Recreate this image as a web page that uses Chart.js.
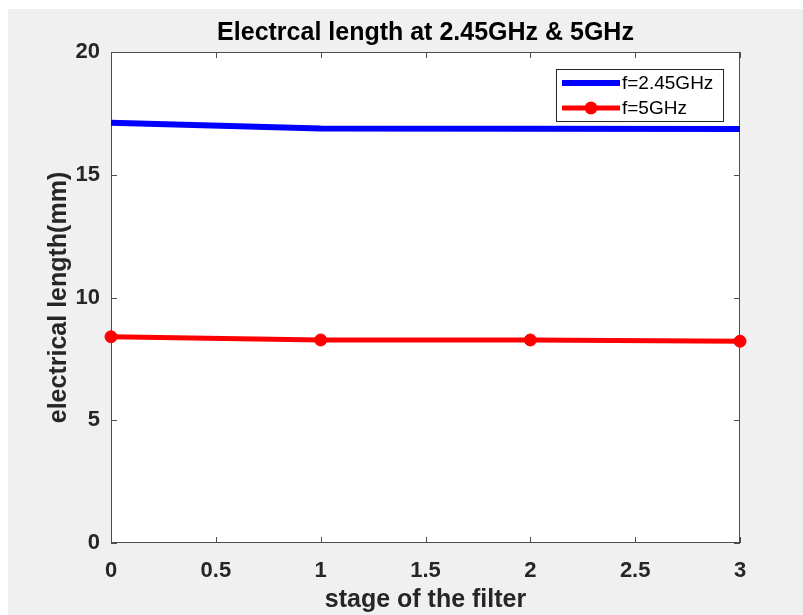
<!DOCTYPE html>
<html>
<head>
<meta charset="utf-8">
<script src="https://cdn.jsdelivr.net/npm/chart.js@4"></script>
<style>
  body { margin: 0; background: #fff; }
  #wrap { position: absolute; left: 8px; top: 9px; width: 795px; height: 606px; }
</style>
</head>
<body>
<div id="wrap"><canvas id="chartLen" width="795" height="606"></canvas></div>
<script>
// data
const stages = [0, 1, 2, 3];
const len245 = [17.12, 16.88, 16.87, 16.86];   // f=2.45GHz
const len5 = [8.40, 8.27, 8.27, 8.22];         // f=5GHz
const xTicks = [0, 0.5, 1, 1.5, 2, 2.5, 3];
const yTicks = [0, 5, 10, 15, 20];

const FONT = "'Liberation Sans', Arial, Helvetica, sans-serif";
const INK = '#262626';

// matlab-ish frame: grey figure, white axes, box with inward ticks, custom legend
const matlabFrame = {
    id: 'matlabFrame',
    beforeDraw(chart) {
        const { ctx, chartArea: a } = chart;
        ctx.save();
        ctx.fillStyle = '#f0f0f0';
        ctx.fillRect(0, 0, chart.width, chart.height);
        ctx.fillStyle = '#fff';
        ctx.fillRect(a.left, a.top, a.right - a.left, a.bottom - a.top);
        ctx.restore();
    },
    beforeDatasetsDraw(chart) {
        const { ctx, chartArea: a, scales } = chart;
        const t = 6;
        ctx.save();
        ctx.strokeStyle = '#4d4d4d';
        ctx.lineWidth = 1;
        ctx.strokeRect(a.left + 0.5, a.top + 0.5, a.right - a.left - 1, a.bottom - a.top - 1);
        ctx.beginPath();
        scales.x.ticks.forEach(tk => {
            const x = Math.round(scales.x.getPixelForValue(tk.value)) + 0.5;
            ctx.moveTo(x, a.bottom); ctx.lineTo(x, a.bottom - t);
            ctx.moveTo(x, a.top); ctx.lineTo(x, a.top + t);
        });
        scales.y.ticks.forEach(tk => {
            const y = Math.round(scales.y.getPixelForValue(tk.value)) + 0.5;
            ctx.moveTo(a.left, y); ctx.lineTo(a.left + t, y);
            ctx.moveTo(a.right, y); ctx.lineTo(a.right - t, y);
        });
        ctx.stroke();
        ctx.restore();
    },
    afterDraw(chart) {
        const { ctx, chartArea: a } = chart;
        const w = 168, h = 53;
        const bx = a.right - 16 - w, by = a.top + 17;
        ctx.save();
        ctx.fillStyle = '#fff';
        ctx.fillRect(bx, by, w, h);
        ctx.strokeStyle = INK;
        ctx.lineWidth = 1;
        ctx.strokeRect(bx + 0.5, by + 0.5, w - 1, h - 1);
        ctx.font = '19px ' + FONT;
        ctx.textBaseline = 'middle';
        chart.data.datasets.forEach((ds, i) => {
            const y = by + 14 + i * 25;
            ctx.strokeStyle = ds.borderColor;
            ctx.lineWidth = ds.borderWidth;
            ctx.beginPath();
            ctx.moveTo(bx + 6, y); ctx.lineTo(bx + 64, y);
            ctx.stroke();
            if (ds.pointRadius > 0) {
                ctx.fillStyle = ds.backgroundColor;
                ctx.beginPath();
                ctx.arc(bx + 35, y, ds.pointRadius + 0.5, 0, Math.PI * 2);
                ctx.fill();
            }
            ctx.fillStyle = '#000';
            ctx.fillText(ds.label, bx + 66, y + 1);
        });
        ctx.restore();
    }
};

new Chart(document.getElementById('chartLen'), {
    type: 'line',
    data: {
        datasets: [{
            label: 'f=2.45GHz',
            data: stages.map((s, i) => ({ x: s, y: len245[i] })),
            borderColor: '#0000ff',
            backgroundColor: '#0000ff',
            borderWidth: 6,
            pointRadius: 0,
            tension: 0,
            clip: false
        }, {
            label: 'f=5GHz',
            data: stages.map((s, i) => ({ x: s, y: len5[i] })),
            borderColor: '#ff0000',
            backgroundColor: '#ff0000',
            borderWidth: 5,
            pointRadius: 6,
            pointBorderWidth: 1,
            pointHoverRadius: 6,
            tension: 0,
            clip: false
        }]
    },
    options: {
        responsive: false,
        animation: false,
        events: [],
        layout: { padding: { left: 0, right: 63, top: 0, bottom: 0 } },
        plugins: {
            legend: { display: false },
            tooltip: { enabled: false },
            title: {
                display: true,
                fullSize: false,
                text: 'Electrcal length at 2.45GHz & 5GHz',
                color: '#000',
                font: { family: FONT, size: 25, weight: 'bold', lineHeight: 1.2 },
                padding: { top: 9, bottom: 4 }
            }
        },
        scales: {
            x: {
                type: 'linear',
                min: 0,
                max: 3,
                afterBuildTicks: s => { s.ticks = xTicks.map(v => ({ value: v })); },
                afterFit: s => { s.height = 72; },
                grid: { display: false, drawTicks: false },
                border: { display: false },
                ticks: {
                    color: INK,
                    padding: 15,
                    font: { family: FONT, size: 22, weight: 'bold' },
                    callback: v => String(v)
                },
                title: {
                    display: true,
                    text: 'stage of the filter',
                    color: INK,
                    font: { family: FONT, size: 25, weight: 'bold' },
                    padding: { top: 0, bottom: 0 }
                }
            },
            y: {
                min: 0,
                max: 20,
                afterBuildTicks: s => { s.ticks = yTicks.map(v => ({ value: v })); },
                afterFit: s => { s.width = 103; },
                grid: { display: false, drawTicks: false },
                border: { display: false },
                ticks: {
                    color: INK,
                    padding: 11,
                    font: { family: FONT, size: 22, weight: 'bold' },
                    callback: v => String(v)
                },
                title: {
                    display: true,
                    text: 'electrical length(mm)',
                    color: INK,
                    font: { family: FONT, size: 25, weight: 'bold' },
                    padding: { top: 36, bottom: 0 }
                }
            }
        }
    },
    plugins: [matlabFrame]
});
</script>
</body>
</html>
